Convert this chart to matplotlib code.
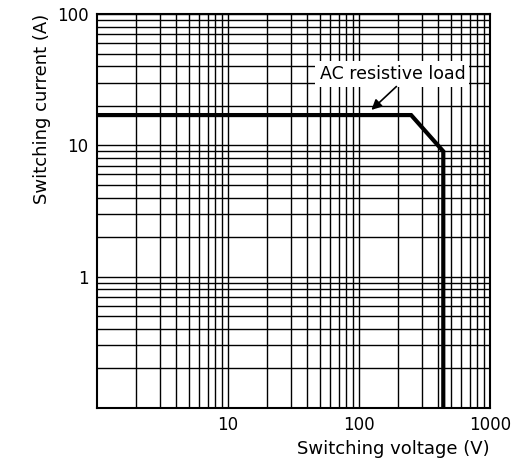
import matplotlib
matplotlib.use("Agg")
import matplotlib.pyplot as plt
from matplotlib.ticker import FixedLocator, NullFormatter

voltage = [1, 250, 440, 440]
current = [17, 17, 9, 0.1]

fig = plt.figure(figsize=(5.26, 4.71), dpi=100)
ax = fig.add_axes([97/526, 63/471, 393/526, 394/471])
ax.set_xscale("log")
ax.set_yscale("log")
ax.set_xlim(1, 1000)
ax.set_ylim(0.1, 100)

ax.grid(True, which="both", color="black", lw=1.0)
for s in ax.spines.values():
    s.set_linewidth(1.5)
ax.tick_params(which="both", length=0, labelsize=12, pad=6)
ax.xaxis.set_major_locator(FixedLocator([10, 100, 1000]))
ax.yaxis.set_major_locator(FixedLocator([1, 10, 100]))
ax.set_xticklabels(["10", "100", "1000"])
ax.set_yticklabels(["1", "10", "100"])
ax.xaxis.set_minor_formatter(NullFormatter())
ax.yaxis.set_minor_formatter(NullFormatter())

ax.plot(voltage, current, color="black", lw=3, solid_joinstyle="miter")

ax.text(50, 35, "AC resistive load", fontsize=12.5, va="center",
        bbox=dict(facecolor="white", edgecolor="none", pad=3))
ax.annotate("", xy=(120, 18), xytext=(200, 29),
            arrowprops=dict(arrowstyle="-|>", color="black", lw=1.2, mutation_scale=15))

ax.set_xlabel("Switching voltage (V)", fontsize=13, loc="right")
ax.set_ylabel("Switching current (A)", fontsize=13, loc="top")
fig.savefig("out.png")
